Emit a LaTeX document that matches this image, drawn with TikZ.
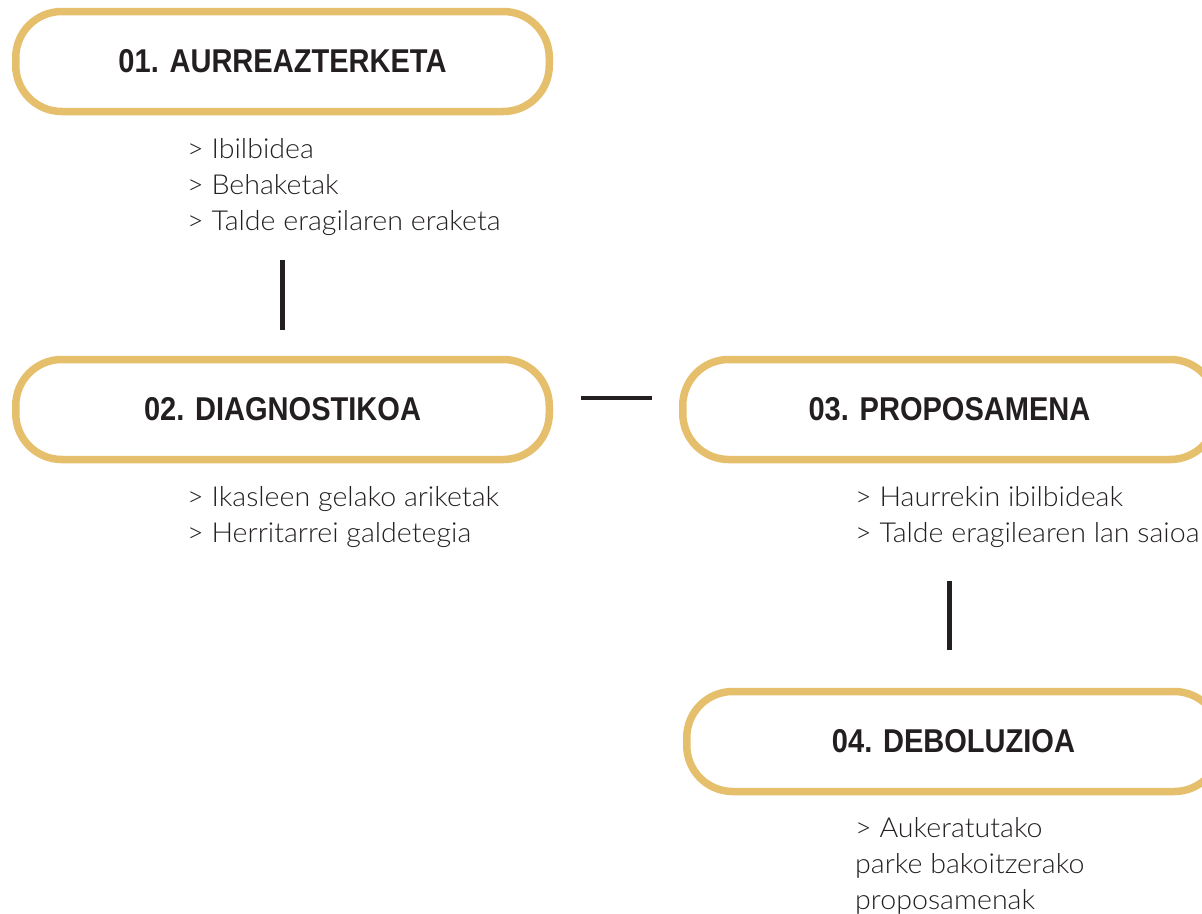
\documentclass[tikz,border=0pt]{standalone}
\usepackage{fontspec}
\setmainfont{Liberation Sans}
\newfontfamily\titlefont{Liberation Sans}[FakeStretch=0.88]
\newfontfamily\lightfont{Lato Light}[FakeStretch=1.04]
\definecolor{gold}{HTML}{E6BF6C}
\definecolor{ink}{HTML}{231F20}
\tikzset{
  stage/.style={draw=gold, line width=7.5pt, rounded corners=46pt, minimum width=533.5pt, minimum height=100pt, inner sep=0pt, text=ink, font=\titlefont\bfseries\fontsize{33}{38}\selectfont},
  items/.style={anchor=north west, inner sep=0pt, align=left, text=ink, font=\lightfont\fontsize{27.5}{36}\selectfont},
  link/.style={draw=ink, line width=4.5pt}
}
\begin{document}
\begin{tikzpicture}[x=1pt,y=-1pt]
\useasboundingbox (0,0) rectangle (1202,913);
\clip (0,0) rectangle (1202,913);
\node[stage] (s1) at (282.5,61.5) {01. AURREAZTERKETA};
\node[stage] (s2) at (282.5,409.5) {02. DIAGNOSTIKOA};
\node[stage] (s3) at (949.5,409.5) {03. PROPOSAMENA};
\node[stage] (s4) at (953.5,741.5) {04. DEBOLUZIOA};
\node[items] (l1) at (187,138) {> Ibilbidea\\> Behaketak\\> Talde eragilaren eraketa};
\node[items] (l2) at (187,486) {> Ikasleen gelako ariketak\\> Herritarrei galdetegia};
\node[items] (l3) at (855,486) {> Haurrekin ibilbideak\\> Talde eragilearen lan saioa};
\node[items] (l4) at (855,817) {> Aukeratutako\\parke bakoitzerako\\proposamenak};
\draw[link, shorten <=145pt, shorten >=26pt] (s1.south) -- (s2.north);
\draw[link, shorten <=28pt, shorten >=27pt] ([yshift=11.5pt]s2.east) -- ([yshift=11.5pt]s3.west);
\draw[link, shorten <=118pt, shorten >=38pt] (s3.south) -- (s3.south |- s4.north);
\end{tikzpicture}
\end{document}
